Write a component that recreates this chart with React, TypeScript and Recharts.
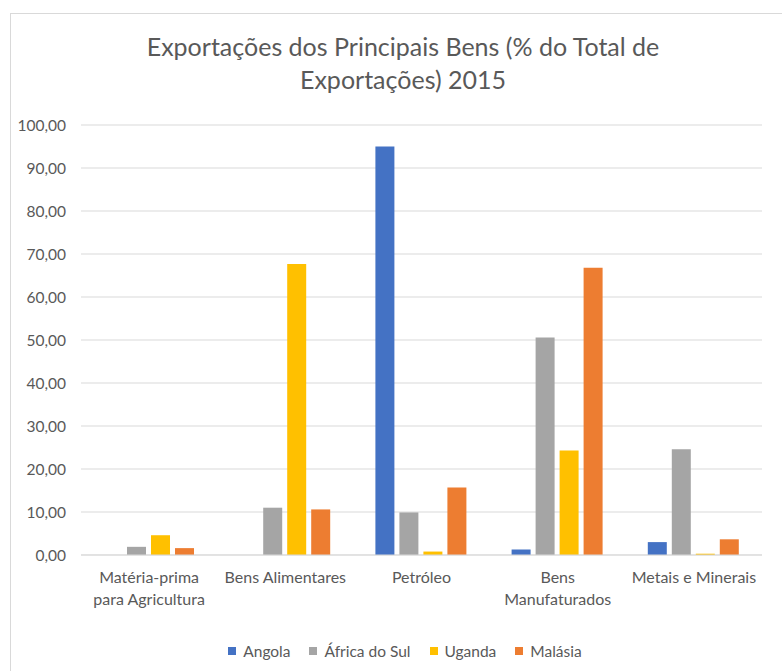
import React from "react";
import { BarChart, Bar, XAxis, YAxis, CartesianGrid, Legend } from "recharts";

const categories = [
  "Matéria-prima para Agricultura",
  "Bens Alimentares",
  "Petróleo",
  "Bens Manufaturados",
  "Metais e Minerais",
];
const categoryLines: string[][] = [
  ["Matéria-prima", "para Agricultura"],
  ["Bens Alimentares"],
  ["Petróleo"],
  ["Bens", "Manufaturados"],
  ["Metais e Minerais"],
];
const angola = [0, 0, 95.0, 1.3, 3.0];
const africaDoSul = [1.9, 11.0, 9.9, 50.6, 24.6];
const uganda = [4.6, 67.7, 0.8, 24.3, 0.3];
const malasia = [1.6, 10.6, 15.7, 66.8, 3.65];
const yTicks = [0, 10, 20, 30, 40, 50, 60, 70, 80, 90, 100];
const titleLines = ["Exportações dos Principais Bens (% do Total de", "Exportações) 2015"];

const series = [
  { key: "angola", name: "Angola", color: "#4472C4", values: angola },
  { key: "africa", name: "África do Sul", color: "#A5A5A5", values: africaDoSul },
  { key: "uganda", name: "Uganda", color: "#FFC000", values: uganda },
  { key: "malasia", name: "Malásia", color: "#ED7D31", values: malasia },
];

const data = categories.map((c, i) => {
  const row: Record<string, any> = { category: c, idx: i };
  series.forEach((s) => {
    row[s.key] = s.values[i];
  });
  return row;
});

const FONT = "Lato, 'Noto Sans', sans-serif";
const TEXT = "#595959";

const XTick = (props: any) => {
  const { x, y, payload } = props;
  const idx = categories.indexOf(payload.value);
  const lines = idx >= 0 ? categoryLines[idx] : [String(payload.value)];
  return (
    <g>
      {lines.map((l, i) => (
        <text
          key={i}
          x={x}
          y={y + 20 + i * 22}
          textAnchor="middle"
          fill={TEXT}
          fontSize={16}
          fontFamily={FONT}
        >
          {l}
        </text>
      ))}
    </g>
  );
};

const LegendContent = () => (
  <div
    style={{
      display: "flex",
      justifyContent: "center",
      alignItems: "center",
      gap: 19,
      fontFamily: FONT,
      fontSize: 15.5,
      color: TEXT,
    }}
  >
    {series.map((s) => (
      <div key={s.key} style={{ display: "flex", alignItems: "center" }}>
        <span
          style={{
            display: "inline-block",
            width: 8,
            height: 8,
            background: s.color,
            marginRight: 7,
          }}
        />
        <span>{s.name}</span>
      </div>
    ))}
  </div>
);

export default function App() {
  return (
    <div
      style={{
        position: "absolute",
        left: 0,
        top: 0,
        width: 782,
        height: 671,
        overflow: "hidden",
        background: "#fff",
      }}
    >
      <div
        style={{
          position: "absolute",
          left: 10,
          top: 13,
          width: 800,
          height: 700,
          border: "1px solid #d9d9d9",
        }}
      />
      <div
        style={{
          position: "absolute",
          left: 0,
          top: 0,
          width: 806,
          textAlign: "center",
          fontFamily: FONT,
          fontSize: 25,
          color: TEXT,
          lineHeight: "33px",
          paddingTop: 30,
        }}
      >
        {titleLines.map((t, i) => (
          <div key={i}>{t}</div>
        ))}
      </div>
      <div style={{ position: "absolute", left: 0, top: 0 }}>
        <BarChart
          width={782}
          height={671}
          data={data}
          margin={{ top: 125, right: 20, bottom: 56, left: 10 }}
          barCategoryGap={22}
          barGap={5}
        >
          <CartesianGrid vertical={false} stroke="#d9d9d9" strokeWidth={1} />
          <XAxis
            dataKey="category"
            height={60}
            axisLine={{ stroke: "#d9d9d9", strokeWidth: 1 }}
            tickLine={false}
            tick={<XTick />}
            interval={0}
          />
          <YAxis
            width={71}
            domain={[0, 100]}
            ticks={yTicks}
            axisLine={false}
            tickLine={false}
            tickMargin={9}
            tick={{ fill: TEXT, fontSize: 15.5, fontFamily: FONT }}
            tickFormatter={(v: number) => v.toFixed(2).replace(".", ",")}
          />
          <Legend
            layout="horizontal"
            verticalAlign="middle"
            content={<LegendContent />}
            wrapperStyle={{ top: 642, left: 0, width: 810, height: 20 }}
          />
          {series.map((s) => (
            <Bar
              key={s.key}
              dataKey={s.key}
              name={s.name}
              fill={s.color}
              isAnimationActive={false}
            />
          ))}
        </BarChart>
      </div>
    </div>
  );
}
